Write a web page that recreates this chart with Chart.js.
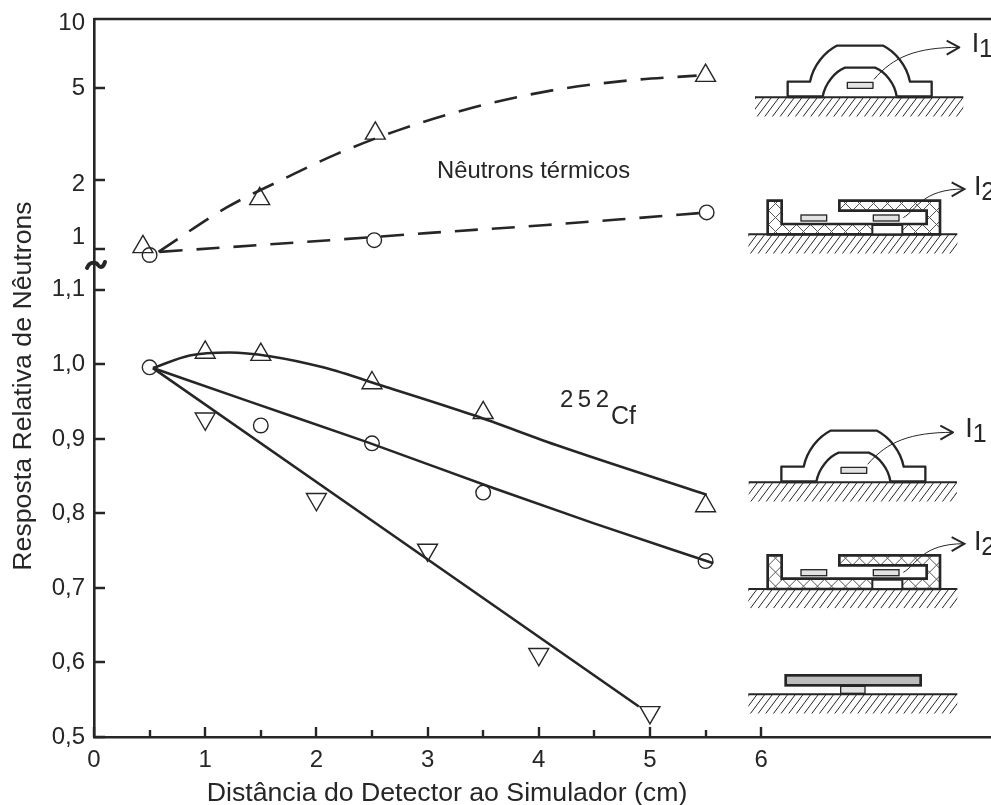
<!DOCTYPE html>
<html>
<head>
<meta charset="utf-8">
<style>
html, body { margin: 0; padding: 0; background: #fff; }
canvas { display: block; }
</style>
<script src="https://cdn.jsdelivr.net/npm/chart.js@4"></script>
</head>
<body>
<canvas id="chart" width="991" height="805"></canvas>
<script>
// tick labels
const xTickValues = [0, 0.5, 1, 1.5, 2, 2.5, 3, 3.5, 4, 4.5, 5, 5.5, 6];
const lowerTickValues = [0.5, 0.6, 0.7, 0.8, 0.9, 1.0, 1.1];
const upperTickValues = [1, 2, 5, 10];

// thermal neutrons (upper, log part) - markers
const thermalI1X = [0.44, 1.49, 2.53, 5.5];
const thermalI1Y = [1.02, 1.65, 3.18, 5.67];
const thermalI2X = [0.5, 2.52, 5.51];
const thermalI2Y = [0.94, 1.09, 1.44];

// thermal neutrons - dashed curves
const thermalCurve1X = [0.58, 1.19, 1.73, 2.17, 2.72, 3.41, 4.12, 4.82, 5.42];
const thermalCurve1Y = [0.97, 1.51, 2.04, 2.57, 3.26, 4.12, 4.89, 5.41, 5.67];
const thermalCurve2X = [0.59, 2.12, 2.99, 4.07, 4.79, 5.44];
const thermalCurve2Y = [0.97, 1.09, 1.17, 1.27, 1.35, 1.43];

// 252Cf (lower, linear part) - markers
const cfI1X = [1, 1.5, 2.5, 3.5, 5.5];
const cfI1Y = [1.016, 1.013, 0.975, 0.935, 0.81];
const cfI2X = [0.5, 1.5, 2.5, 3.5, 5.5];
const cfI2Y = [0.996, 0.918, 0.894, 0.828, 0.736];
const cfBareX = [1, 2, 3, 4, 5];
const cfBareY = [0.927, 0.819, 0.751, 0.611, 0.533];

// 252Cf - fitted lines
const cfCurve1X = [0.53, 0.86, 1.22, 1.58, 2.06, 2.6, 3.41, 4.19, 5.51];
const cfCurve1Y = [0.995, 1.012, 1.016, 1.011, 0.996, 0.971, 0.932, 0.89, 0.825];
const cfCurve2X = [0.53, 1.4, 2.45, 3.59, 4.49, 5.57];
const cfCurve2Y = [0.995, 0.95, 0.896, 0.834, 0.787, 0.733];
const cfCurve3X = [0.53, 4.9];
const cfCurve3Y = [0.995, 0.541];

const ink = '#262626';
const fontName = '"Liberation Sans", Arial, sans-serif';

function pts(xs, ys) {
    return xs.map((x, i) => ({ x: x, y: ys[i] }));
}

function curve(xs, ys, axis, dash) {
    return {
        data: pts(xs, ys),
        yAxisID: axis,
        borderColor: ink,
        borderWidth: 2.6,
        borderDash: dash || [],
        cubicInterpolationMode: 'monotone',
        pointRadius: 0,
        fill: false,
    };
}

function markers(xs, ys, axis, style, rotation) {
    return {
        data: pts(xs, ys),
        yAxisID: axis,
        showLine: false,
        pointStyle: style,
        pointRotation: rotation || 0,
        pointRadius: style === 'circle' ? 7.3 : 11.5,
        pointBorderWidth: 1.4,
        pointBorderColor: ink,
        pointBackgroundColor: 'transparent',
    };
}

// ---- little schematics on the right, coordinates are 3x pixels of the figure ----
function ground(ctx, x0, x1, y) {
    ctx.save();
    ctx.beginPath();
    ctx.rect(x0, y, x1 - x0, 58);
    ctx.clip();
    ctx.lineWidth = 3;
    ctx.beginPath();
    for (let x = x0 - 40; x < x1; x += 23) {
        ctx.moveTo(x, y + 58);
        ctx.lineTo(x + 42, y + 2);
    }
    ctx.stroke();
    ctx.restore();
    ctx.lineWidth = 6;
    ctx.beginPath();
    ctx.moveTo(x0, y);
    ctx.lineTo(x1, y);
    ctx.stroke();
}

function sensor(ctx, x, y) {
    ctx.fillStyle = '#e2e2e2';
    ctx.lineWidth = 4;
    ctx.fillRect(x, y, 77, 18);
    ctx.strokeRect(x, y, 77, 18);
}

function arrow(ctx, x0, y0, c1x, c1y, c2x, c2y, x1, y1) {
    ctx.lineWidth = 3;
    ctx.beginPath();
    ctx.moveTo(x0, y0);
    ctx.bezierCurveTo(c1x, c1y, c2x, c2y, x1, y1);
    ctx.stroke();
    ctx.lineWidth = 6;
    ctx.beginPath();
    ctx.moveTo(x1 - 38, y1 - 20);
    ctx.lineTo(x1, y1);
    ctx.lineTo(x1 - 38, y1 + 22);
    ctx.stroke();
}

function label(ctx, sub, x, y) {
    ctx.fillStyle = ink;
    ctx.font = '81px ' + fontName;
    ctx.textAlign = 'left';
    ctx.textBaseline = 'alphabetic';
    ctx.fillText('I', x, y);
    ctx.font = '75px ' + fontName;
    ctx.fillText(sub, x + 22, y + 15);
}

function drawDome(ctx, ox, oy) {
    ctx.save();
    ctx.translate(ox, oy);
    ctx.scale(1 / 3, 1 / 3);
    ctx.strokeStyle = ink;
    ground(ctx, 75, 700, 292);
    ctx.lineWidth = 7;
    ctx.lineJoin = 'round';
    ctx.beginPath();
    ctx.moveTo(173, 290);
    ctx.lineTo(173, 245);
    ctx.lineTo(240, 245);
    ctx.bezierCurveTo(250, 195, 285, 155, 320, 137);
    ctx.lineTo(460, 137);
    ctx.bezierCurveTo(495, 155, 530, 195, 540, 245);
    ctx.lineTo(605, 245);
    ctx.lineTo(605, 290);
    ctx.stroke();
    ctx.beginPath();
    ctx.moveTo(278, 290);
    ctx.bezierCurveTo(285, 250, 315, 215, 345, 203);
    ctx.lineTo(435, 203);
    ctx.bezierCurveTo(465, 215, 495, 250, 500, 290);
    ctx.stroke();
    ctx.lineWidth = 9;
    ctx.beginPath();
    ctx.moveTo(173, 290);
    ctx.lineTo(278, 290);
    ctx.moveTo(500, 290);
    ctx.lineTo(605, 290);
    ctx.stroke();
    sensor(ctx, 352, 247);
    arrow(ctx, 432, 238, 490, 170, 560, 142, 688, 142);
    label(ctx, '1', 725, 155);
    ctx.restore();
}

function drawBox(ctx, ox, oy) {
    const outline = [[113, 703], [113, 602], [155, 602], [155, 672], [590, 672], [590, 632], [328, 632], [328, 602], [630, 602], [630, 703]];
    const shape = new Path2D();
    outline.forEach((p, i) => (i ? shape.lineTo(p[0], p[1]) : shape.moveTo(p[0], p[1])));
    shape.closePath();
    ctx.save();
    ctx.translate(ox, oy);
    ctx.scale(1 / 3, 1 / 3);
    ctx.strokeStyle = ink;
    ground(ctx, 55, 682, 703);
    ctx.save();
    ctx.clip(shape);
    ctx.lineWidth = 3;
    ctx.strokeStyle = '#555';
    ctx.beginPath();
    for (let x = 0; x < 800; x += 42) {
        ctx.moveTo(x, 600);
        ctx.lineTo(x + 105, 705);
        ctx.moveTo(x + 105, 600);
        ctx.lineTo(x, 705);
    }
    ctx.stroke();
    ctx.restore();
    ctx.lineWidth = 8;
    ctx.lineJoin = 'miter';
    ctx.stroke(shape);
    ctx.fillStyle = '#fff';
    ctx.fillRect(427, 675, 90, 28);
    ctx.lineWidth = 6;
    ctx.strokeRect(427, 675, 90, 28);
    sensor(ctx, 213, 645);
    sensor(ctx, 430, 645);
    arrow(ctx, 520, 653, 560, 630, 575, 567, 703, 567);
    label(ctx, '2', 732, 585);
    ctx.restore();
}

function drawBare(ctx, ox, oy) {
    ctx.save();
    ctx.translate(ox, oy);
    ctx.scale(1 / 3, 1 / 3);
    ctx.strokeStyle = ink;
    ground(ctx, 55, 682, 853);
    ctx.fillStyle = '#bdbdbd';
    ctx.lineWidth = 8;
    ctx.fillRect(167, 796, 405, 30);
    ctx.strokeRect(167, 796, 405, 30);
    ctx.fillStyle = '#e2e2e2';
    ctx.lineWidth = 4;
    ctx.fillRect(332, 829, 73, 21);
    ctx.strokeRect(332, 829, 73, 21);
    ctx.restore();
}

const figurePlugin = {
    id: 'figure',
    afterLayout(chart) {
        // upper axis takes no room of its own, but its labels are clipped to its box
        chart.scales.yTop.left = 0;
    },
    afterDraw(chart) {
        const ctx = chart.ctx;
        const area = chart.chartArea;
        const s = chart.scales;
        ctx.save();
        ctx.strokeStyle = ink;
        ctx.lineCap = 'butt';

        // top frame line
        ctx.lineWidth = 2.6;
        ctx.beginPath();
        ctx.moveTo(area.left, area.top);
        ctx.lineTo(area.right, area.top);
        ctx.stroke();

        // inward ticks
        ctx.lineWidth = 2.4;
        ctx.beginPath();
        [s.y, s.yTop].forEach(scale => scale.ticks.forEach(t => {
            const py = Math.round(scale.getPixelForValue(t.value));
            if (t.value === 10) return;
            ctx.moveTo(area.left, py);
            ctx.lineTo(area.left + 11, py);
        }));
        s.x.ticks.forEach(t => {
            const px = Math.round(s.x.getPixelForValue(t.value));
            ctx.moveTo(px, area.bottom);
            ctx.lineTo(px, area.bottom - (Number.isInteger(t.value) ? 10 : 7));
        });
        ctx.stroke();

        // axis break
        ctx.lineWidth = 4;
        ctx.lineCap = 'round';
        ctx.beginPath();
        ctx.moveTo(87, 268);
        ctx.bezierCurveTo(90, 260, 97, 263, 98, 265);
        ctx.bezierCurveTo(100, 268, 103, 268, 105, 262);
        ctx.stroke();
        ctx.lineCap = 'butt';

        // texts
        ctx.fillStyle = ink;
        ctx.textBaseline = 'alphabetic';
        ctx.textAlign = 'left';
        ctx.font = '23.8px ' + fontName;
        ctx.fillText('Nêutrons térmicos', 437, 178);
        ctx.font = '24px ' + fontName;
        ctx.letterSpacing = '4.5px';
        ctx.fillText('252', 560, 407);
        ctx.letterSpacing = '0px';
        ctx.font = '25px ' + fontName;
        ctx.fillText('Cf', 611, 424);

        ctx.font = '26.7px ' + fontName;
        ctx.textAlign = 'center';
        ctx.fillText('Distância do Detector ao Simulador (cm)', 447, 801);
        ctx.save();
        ctx.translate(31, 386);
        ctx.rotate(-Math.PI / 2);
        ctx.fillText('Resposta Relativa de Nêutrons', 0, 0);
        ctx.restore();

        drawDome(ctx, 730, 0);
        drawBox(ctx, 730, 0);
        drawDome(ctx, 723.7, 385);
        drawBox(ctx, 730, 354.7);
        drawBare(ctx, 730, 410);
        ctx.restore();
    },
};

new Chart(document.getElementById('chart'), {
    type: 'line',
    data: {
        datasets: [
            curve(thermalCurve1X, thermalCurve1Y, 'yTop', [23, 14]),
            curve(thermalCurve2X, thermalCurve2Y, 'yTop', [23, 14]),
            curve(cfCurve1X, cfCurve1Y, 'y'),
            curve(cfCurve2X, cfCurve2Y, 'y'),
            curve(cfCurve3X, cfCurve3Y, 'y'),
            markers(thermalI1X, thermalI1Y, 'yTop', 'triangle'),
            markers(thermalI2X, thermalI2Y, 'yTop', 'circle'),
            markers(cfI1X, cfI1Y, 'y', 'triangle'),
            markers(cfI2X, cfI2Y, 'y', 'circle'),
            markers(cfBareX, cfBareY, 'y', 'triangle', 180),
        ],
    },
    plugins: [figurePlugin],
    options: {
        responsive: false,
        animation: false,
        layout: { autoPadding: false, padding: { top: 19, left: 0, right: 0, bottom: 0 } },
        plugins: { legend: { display: false }, tooltip: { enabled: false } },
        scales: {
            x: {
                type: 'linear',
                min: 0,
                max: 8.067,
                afterFit: scale => {
                    scale.height = 68;
                    scale.paddingLeft = 0;
                    scale.paddingRight = 0;
                },
                afterBuildTicks: scale => { scale.ticks = xTickValues.map(v => ({ value: v })); },
                grid: { display: false, drawTicks: false },
                border: { display: true, color: ink, width: 2.6 },
                ticks: {
                    autoSkip: false,
                    maxRotation: 0,
                    padding: 9,
                    color: ink,
                    font: { family: fontName, size: 24 },
                    callback: v => (Number.isInteger(v) ? String(v) : ''),
                },
            },
            y: {
                type: 'linear',
                position: 'left',
                weight: 1,
                min: 0.5,
                max: 1.4634,
                afterFit: scale => {
                    scale.width = 94;
                    scale.paddingTop = 0;
                    scale.paddingBottom = 0;
                },
                afterBuildTicks: scale => { scale.ticks = lowerTickValues.map(v => ({ value: v })); },
                grid: { display: false, drawTicks: false },
                border: { display: true, color: ink, width: 2.6 },
                ticks: {
                    autoSkip: false,
                    padding: 9,
                    color: ink,
                    font: { family: fontName, size: 24 },
                    callback: v => v.toFixed(1).replace('.', ','),
                },
            },
            yTop: {
                type: 'logarithmic',
                position: 'left',
                weight: 0,
                bounds: 'data',
                min: 0.00751,
                max: 10,
                afterFit: scale => {
                    scale.width = 0;
                    scale.paddingTop = 0;
                    scale.paddingBottom = 0;
                },
                afterBuildTicks: scale => { scale.ticks = upperTickValues.map(v => ({ value: v })); },
                grid: { display: false, drawTicks: false },
                border: { display: false },
                ticks: {
                    autoSkip: false,
                    padding: 9,
                    color: ink,
                    // 1 sits above its tick in the original, 2 and 10 a bit below
                    font: c => ({
                        family: fontName,
                        size: 24,
                        lineHeight: c.tick && (c.tick.value === 10 || c.tick.value === 2) ? 0.4 : 0.92,
                    }),
                    callback: v => {
                        if (v === 1) return ['1', ''];
                        if (v === 2 || v === 10) return ['', String(v)];
                        return String(v);
                    },
                },
            },
        },
    },
});
</script>
</body>
</html>
